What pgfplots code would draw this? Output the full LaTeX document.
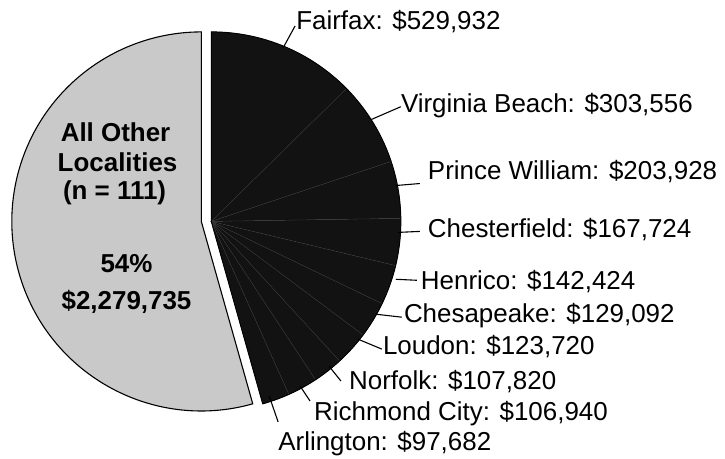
\documentclass[border=0pt]{standalone}
\usepackage{fontspec}
\setmainfont{Liberation Sans}
\usepackage{pgfplots}
\pgfplotsset{compat=1.18}
\tikzset{
  lab/.style={anchor=base west,inner sep=0pt,font=\fontsize{26bp}{30bp}\selectfont},
  inl/.style={anchor=base,inner sep=0pt,font=\fontsize{26bp}{30bp}\selectfont\bfseries}}
\begin{document}
\begin{tikzpicture}
\begin{axis}[x=1bp,y=1bp,xmin=0,xmax=725,ymin=0,ymax=460,hide axis,clip=false]
\path (axis cs:0,0) rectangle (axis cs:725,460);
% values in thousands of dollars (top ten localities, then all others)
\def\total{0}
\pgfplotsforeachungrouped \v in {529.932,303.556,203.928,167.724,142.424,129.092,123.720,107.820,106.940,97.682,2279.735} {
  \pgfmathsetmacro\total{\total+\v}
  \global\let\total\total
}
\def\startang{90}
\pgfplotsforeachungrouped \v in {529.932,303.556,203.928,167.724,142.424,129.092,123.720,107.820,106.940,97.682} {
  \pgfmathsetmacro\endang{\startang-\v/\total*360}
  \edef\tmp{\noexpand\fill[black!93, draw=black!78, line width=0.3pt] (axis cs:210,238) -- ++(\startang:190bp) arc[start angle=\startang, end angle=\endang, radius=190bp] -- cycle;}
  \tmp
  \global\let\startang\endang
}
\edef\tmp{\noexpand\draw[black, line width=1pt] (axis cs:210,238) -- ++(90:190bp) arc[start angle=90, end angle=\startang, radius=190bp] -- cycle;}
\tmp
\edef\tmp{\noexpand\fill[black!21, draw=black, line width=1.1pt] (axis cs:200,238) -- ++(\startang:190bp) arc[start angle=\startang, end angle=-270, radius=190bp] -- cycle;}
\tmp
% leader lines
\draw[line width=1.1pt] (axis cs:282,412) -- (axis cs:294,434);
\draw[line width=1.1pt] (axis cs:370,340) -- (axis cs:400,353);
\draw[line width=1.1pt] (axis cs:395,274) -- (axis cs:419,276);
\draw[line width=1.1pt] (axis cs:397,227) -- (axis cs:419,228);
\draw[line width=1.1pt] (axis cs:395,180) -- (axis cs:416,179);
\draw[line width=1.1pt] (axis cs:375,145) -- (axis cs:401,142);
\draw[line width=1.1pt] (axis cs:357,120) -- (axis cs:381,110);
\draw[line width=1.1pt] (axis cs:328,93) -- (axis cs:340,78);
\draw[line width=1.1pt] (axis cs:299,73) -- (axis cs:309,58);
\draw[line width=1.1pt] (axis cs:268,63) -- (axis cs:277,37);
% labels
\node[lab] at (axis cs:295,430) {Fairfax: \$529,932};
\node[lab] at (axis cs:400,347) {Virginia Beach: \$303,556};
\node[lab] at (axis cs:427,280) {Prince William: \$203,928};
\node[lab] at (axis cs:427,222) {Chesterfield: \$167,724};
\node[lab] at (axis cs:420,170) {Henrico: \$142,424};
\node[lab] at (axis cs:403,137) {Chesapeake: \$129,092};
\node[lab] at (axis cs:382,105) {Loudon: \$123,720};
\node[lab] at (axis cs:348,70) {Norfolk: \$107,820};
\node[lab] at (axis cs:313,38) {Richmond City: \$106,940};
\node[lab] at (axis cs:277,8) {Arlington: \$97,682};
% inner labels
\node[inl] at (axis cs:114,318) {All Other};
\node[inl] at (axis cs:116,288) {Localities};
\node[inl] at (axis cs:113,260) {(n = 111)};
\node[inl] at (axis cs:125,187) {54\%};
\node[inl] at (axis cs:125,150) {\$2,279,735};
\end{axis}
\end{tikzpicture}
\end{document}
